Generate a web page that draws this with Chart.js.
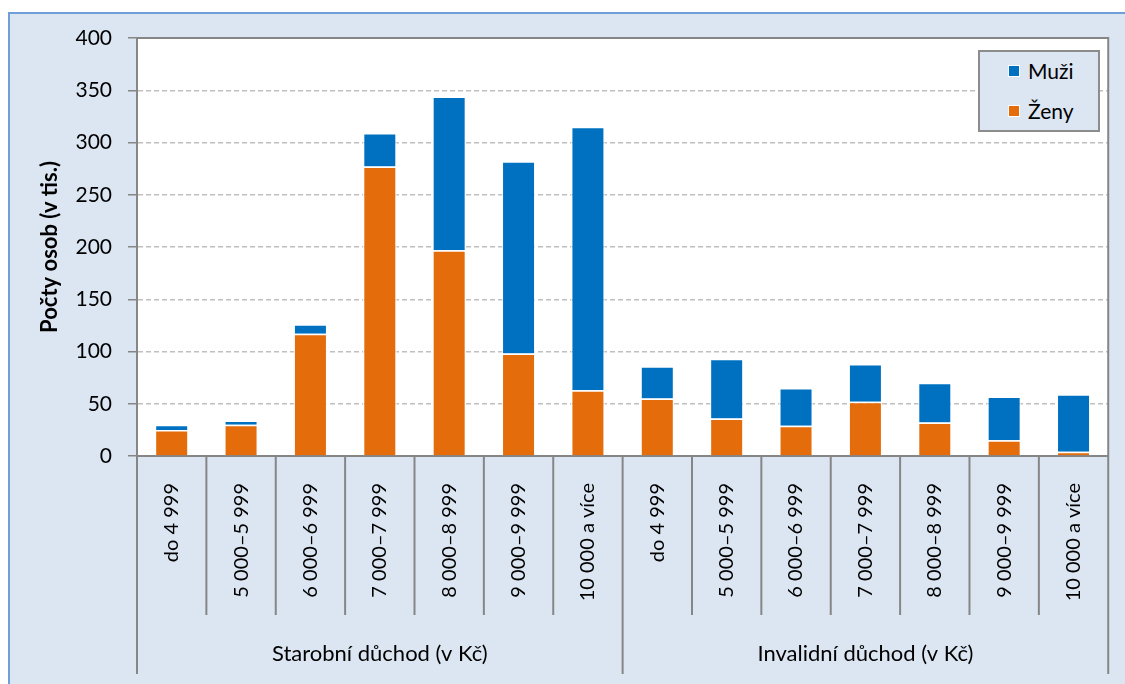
<!DOCTYPE html>
<html><head><meta charset="utf-8">
<script src="https://cdn.jsdelivr.net/npm/chart.js@4/dist/chart.umd.min.js"></script>
<style>
html,body{margin:0;padding:0;background:#fff;}
#wrap{position:relative;width:1125px;height:684px;overflow:hidden;}
#panel{position:absolute;left:8px;top:12px;width:1130px;height:680px;background:#dce6f2;border:2px solid #6f9fd8;box-sizing:border-box;}
#c{position:absolute;left:0;top:0;}
#legend{position:absolute;left:978px;top:50px;width:122px;height:82px;background:#dce6f2;border:2px solid #8c8c8c;box-sizing:border-box;font-family:Lato,sans-serif;font-size:21px;color:#000;}
.li{position:absolute;left:48px;height:24px;line-height:24px;}
.sw{position:absolute;left:-20px;top:6px;width:12px;height:12px;box-sizing:border-box;border:1px solid #fff;}
</style></head><body>
<div id="wrap"><div id="panel"></div><canvas id="c" width="1125" height="684"></canvas><div id="legend"></div></div>
<script>
const categories = ['do 4 999','5 000–5 999','6 000–6 999','7 000–7 999','8 000–8 999','9 000–9 999','10 000 a více'];
const groups = ['Starobní důchod (v Kč)','Invalidní důchod (v Kč)'];
const zenyStarobni = [25,30,117,277,197,98,63];
const muziStarobni = [5,4,9,32,147,184,252];
const zenyInvalidni = [55,36,29,52,32,15,4];
const muziInvalidni = [31,57,36,36,38,42,55];
const seriesNames = ['Ženy','Muži'];
const seriesColors = ['#e46c0a','#0070c0'];
const yMin = 0, yMax = 400, yStep = 50;
const yTitle = 'Počty osob (v tis.)';

const labels = groups.flatMap(() => categories);

Chart.defaults.font.family = 'Lato, sans-serif';
Chart.defaults.color = '#000';

const bgPlugin = {
  id:'bg',
  beforeDraw(chart){
    const {ctx, chartArea:a} = chart;
    ctx.save(); ctx.fillStyle='#fff';
    ctx.fillRect(a.left, a.top, a.right-a.left, a.bottom-a.top);
    ctx.restore();
  }
};
const divPlugin = {
  id:'dividers',
  afterDraw(chart){
    const {ctx, chartArea:a, scales:{x, x2}} = chart;
    ctx.save(); ctx.strokeStyle='#868686'; ctx.lineWidth=2;
    const n = labels.length;
    for (let i=0;i<=n;i++){
      let px;
      if (i===0) px=a.left; else if (i===n) px=a.right;
      else px=(x.getPixelForValue(i-1)+x.getPixelForValue(i))/2;
      const outer = i % categories.length === 0;
      ctx.beginPath(); ctx.moveTo(px, a.bottom); ctx.lineTo(px, outer ? x2.bottom : x.bottom); ctx.stroke();
    }
    ctx.beginPath(); ctx.moveTo(a.left, a.top); ctx.lineTo(a.right, a.top); ctx.lineTo(a.right, a.bottom); ctx.stroke();
    ctx.restore();
  }
};

const chart = new Chart(document.getElementById('c'), {
  type:'bar',
  data:{
    labels,
    datasets:[
      {label:seriesNames[0], data:[...zenyStarobni,...zenyInvalidni], backgroundColor:seriesColors[0], borderColor:'rgba(255,255,255,0.8)', borderWidth:1.5},
      {label:seriesNames[1], data:[...muziStarobni,...muziInvalidni], backgroundColor:seriesColors[1], borderColor:'rgba(255,255,255,0.6)', borderWidth:1.5}
    ]
  },
  options:{
    responsive:false, animation:false, devicePixelRatio:1,
    barPercentage:0.49, categoryPercentage:1,
    layout:{padding:{top:38,right:13,bottom:10,left:0}},
    plugins:{legend:{display:false}, tooltip:{enabled:false}},
    scales:{
      x:{
        stacked:true, position:'bottom', weight:0,
        grid:{display:false, drawTicks:false},
        border:{display:true, color:'#868686', width:2},
        ticks:{font:{size:20}, color:'#000', maxRotation:90, minRotation:90, padding:27, autoSkip:false},
        afterFit(s){ s.height = 159; }
      },
      x2:{
        type:'category', labels:groups, offset:true, position:'bottom', weight:1,
        grid:{display:false, drawTicks:false}, border:{display:false},
        ticks:{font:{size:22}, color:'#000', maxRotation:0, padding:26},
        afterFit(s){ s.height = 59; }
      },
      y:{
        stacked:true, min:yMin, max:yMax,
        ticks:{stepSize:yStep, font:{size:21}, color:'#000', padding:16},
        grid:{color:c => (c.tick && (c.tick.value===yMin || c.tick.value===yMax)) ? 'rgba(0,0,0,0)' : '#bfbfbf',
              lineWidth:1.5, tickColor:'#868686', tickLength:9, tickWidth:1.5},
        border:{display:true, color:'#868686', width:2, dash:[5,3]},
        title:{display:true, text:yTitle, font:{size:22, weight:'bold'}, color:'#000', padding:{top:37,bottom:0}},
        afterFit(s){ s.width = 137; }
      }
    }
  },
  plugins:[bgPlugin, divPlugin]
});

const leg = document.getElementById('legend');
[...chart.data.datasets].reverse().forEach((d,i) => {
  const row = document.createElement('div');
  row.className='li'; row.style.top = (7 + i*40) + 'px';
  const sw = document.createElement('span'); sw.className='sw'; sw.style.background=d.backgroundColor;
  row.appendChild(sw); row.appendChild(document.createTextNode(d.label));
  leg.appendChild(row);
});
</script>
</body></html>
